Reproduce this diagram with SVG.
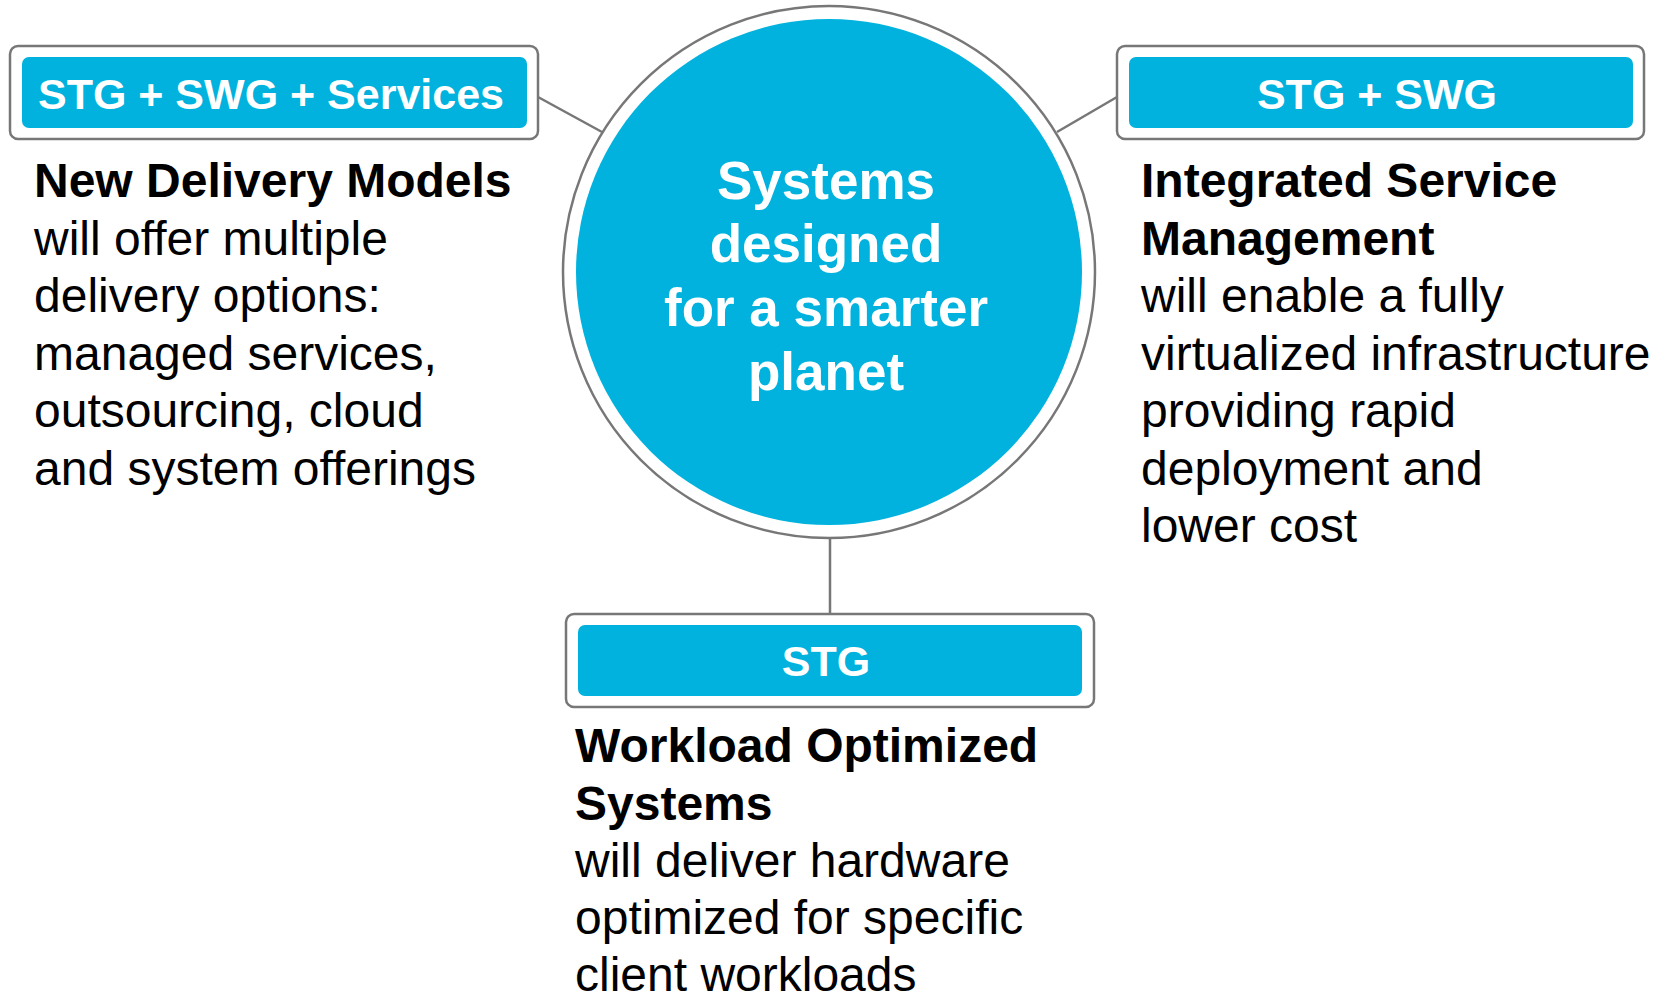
<svg xmlns="http://www.w3.org/2000/svg" width="1662" height="1001" viewBox="0 0 1662 1001">
<style>
.outer{fill:#fff;stroke:#777;stroke-width:2.5}
.inner{fill:#00B2DD}
.lbl{font-family:"Liberation Sans",Arial,sans-serif;font-weight:bold;font-size:43px;fill:#fff;text-anchor:middle}
.ctr{font-family:"Liberation Sans",Arial,sans-serif;font-weight:bold;font-size:53px;fill:#fff;text-anchor:middle}
.body{font-family:"Liberation Sans",Arial,sans-serif;font-size:48px;fill:#000}
.b{font-weight:bold}
.conn{stroke:#777;stroke-width:2.5;fill:none}
</style>
<rect width="1662" height="1001" fill="#fff"/>
<g id="connectors">
<line class="conn" x1="538" y1="97" x2="602" y2="132"/>
<line class="conn" x1="1117" y1="97" x2="1057" y2="132"/>
<line class="conn" x1="830" y1="538" x2="830" y2="614"/>
</g>
<g id="center">
<circle cx="829" cy="272" r="266" class="outer"/>
<circle cx="829" cy="272" r="253" class="inner"/>
<text class="ctr" x="826" y="199">Systems</text>
<text class="ctr" x="826" y="262">designed</text>
<text class="ctr" x="826" y="326">for a smarter</text>
<text class="ctr" x="826" y="390">planet</text>
</g>
<g id="left">
<rect x="10" y="46" width="528" height="93" rx="8" class="outer"/>
<rect x="22" y="57" width="505" height="71" rx="7" class="inner"/>
<text class="lbl" x="271" y="109">STG + SWG + Services</text>
<text class="body" x="34">
<tspan class="b" x="34" y="197">New Delivery Models</tspan>
<tspan x="34" y="254.5">will offer multiple</tspan>
<tspan x="34" y="312">delivery options:</tspan>
<tspan x="34" y="369.5">managed services,</tspan>
<tspan x="34" y="427">outsourcing, cloud</tspan>
<tspan x="34" y="484.5">and system offerings</tspan>
</text>
</g>
<g id="right">
<rect x="1117" y="46" width="527" height="93" rx="8" class="outer"/>
<rect x="1129" y="57" width="504" height="71" rx="7" class="inner"/>
<text class="lbl" x="1377" y="109">STG + SWG</text>
<text class="body" x="1141">
<tspan class="b" x="1141" y="197">Integrated Service</tspan>
<tspan class="b" x="1141" y="254.5">Management</tspan>
<tspan x="1141" y="312">will enable a fully</tspan>
<tspan x="1141" y="369.5">virtualized infrastructure</tspan>
<tspan x="1141" y="427">providing rapid</tspan>
<tspan x="1141" y="484.5">deployment and</tspan>
<tspan x="1141" y="542">lower cost</tspan>
</text>
</g>
<g id="bottom">
<rect x="566" y="614" width="528" height="93" rx="8" class="outer"/>
<rect x="578" y="625" width="504" height="71" rx="7" class="inner"/>
<text class="lbl" x="826" y="676">STG</text>
<text class="body" x="575">
<tspan class="b" x="575" y="762">Workload Optimized</tspan>
<tspan class="b" x="575" y="819.5">Systems</tspan>
<tspan x="575" y="877">will deliver hardware</tspan>
<tspan x="575" y="934">optimized for specific</tspan>
<tspan x="575" y="991">client workloads</tspan>
</text>
</g>
</svg>
